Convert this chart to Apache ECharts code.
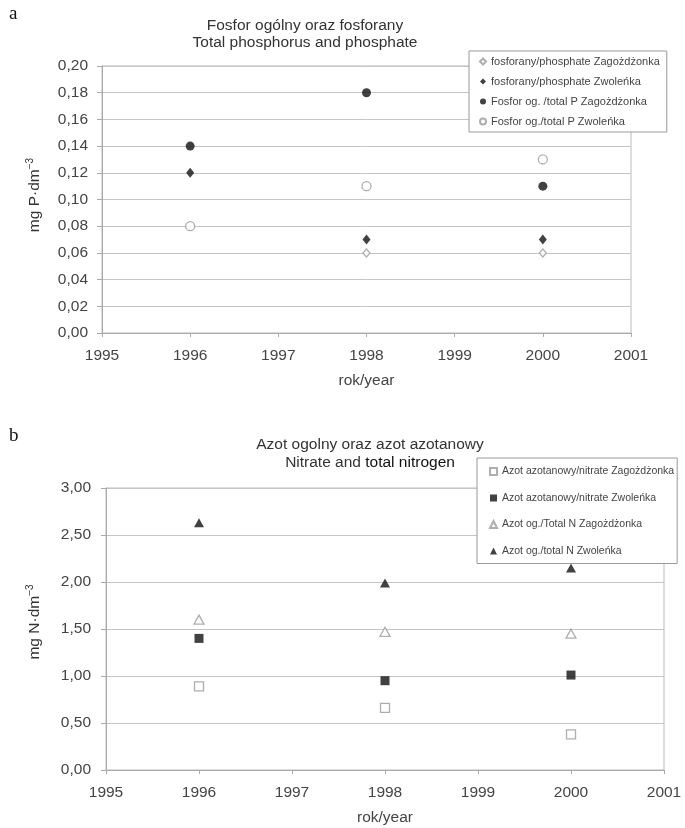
<!DOCTYPE html>
<html>
<head>
<meta charset="utf-8">
<script src="https://cdn.jsdelivr.net/npm/echarts@6/dist/echarts.min.js"></script>
<style>
html,body{margin:0;padding:0;background:#fff;}
#c{width:685px;height:828px;}
</style>
</head>
<body>
<div id="c"></div>
<script>
// ---- data ----
const years = [1996, 1998, 2000];
// chart a: phosphorus (mg P/dm3)
const phosphateZag = [null, 0.06, 0.06];
const phosphateZwol = [0.12, 0.07, 0.07];
const totalPZag = [0.14, 0.18, 0.11];
const totalPZwol = [0.08, 0.11, 0.13];
// chart b: nitrogen (mg N/dm3)
const nitrateZag = [0.89, 0.66, 0.38];
const nitrateZwol = [1.40, 0.95, 1.01];
const totalNZag = [1.60, 1.47, 1.45];
const totalNZwol = [2.63, 1.99, 2.15];

const namesA = ['fosforany/phosphate Zagożdżonka', 'fosforany/phosphate Zwoleńka',
  'Fosfor og. /total P Zagożdżonka', 'Fosfor og./total P Zwoleńka'];
const namesB = ['Azot azotanowy/nitrate Zagożdżonka', 'Azot azotanowy/nitrate Zwoleńka',
  'Azot og./Total N Zagożdżonka', 'Azot og./total N Zwoleńka'];
const xTicksMin = 1995, xTicksMax = 2001;

function pairs(vals) {
  return years.map((y, i) => vals[i] == null ? null : [y, vals[i]]).filter(d => d);
}
const FONT = 'Liberation Sans, Arial, sans-serif';
const TXT = '#444';
const comma = v => v.toFixed(2).replace('.', ',');

function xAxis(gi) {
  return {
    type: 'value', gridIndex: gi, min: xTicksMin, max: xTicksMax, interval: 1,
    name: 'rok/year', nameLocation: 'middle', nameGap: 40,
    nameTextStyle: {fontFamily: FONT, fontSize: 15.5, color: TXT},
    axisLine: {show: true, lineStyle: {color: '#aaa'}},
    axisTick: {show: true, length: 4, lineStyle: {color: '#aaa'}},
    axisLabel: {fontFamily: FONT, fontSize: 15.5, color: TXT, margin: 15, formatter: v => String(v)},
    splitLine: {show: false}
  };
}
function yAxis(gi, max, interval, margin) {
  return {
    type: 'value', gridIndex: gi, min: 0, max: max, interval: interval,
    axisLine: {show: true, lineStyle: {color: '#aaa'}},
    axisTick: {show: true, length: 5, lineStyle: {color: '#aaa'}},
    axisLabel: {fontFamily: FONT, fontSize: 15.5, color: TXT, margin: margin, formatter: comma},
    splitLine: {show: true, lineStyle: {color: '#c4c4c4', width: 1}}
  };
}
const filled = {color: '#111', borderColor: '#111', borderWidth: 0};
const open = {color: '#fff', borderColor: '#9a9a9a', borderWidth: 1.3};

function sc(name, xi, data, symbol, size, style) {
  return {type: 'scatter', name: name, xAxisIndex: xi, yAxisIndex: xi, data: data,
    symbol: symbol, symbolSize: size, itemStyle: style, z: 5,
    emphasis: {disabled: true}};
}

const legendBase = {
  orient: 'vertical', backgroundColor: '#fff', borderColor: '#999', borderWidth: 1,
  itemWidth: 6, itemHeight: 6, selectedMode: false, z: 10
};

const option = {
  animation: false,
  backgroundColor: '#fff',
  textStyle: {fontFamily: FONT},
  grid: [
    {left: 102, right: 685 - 631, top: 66, height: 267, show: true, borderColor: '#bbb', borderWidth: 1},
    {left: 106, right: 685 - 664, top: 488, height: 282, show: true, borderColor: '#bbb', borderWidth: 1}
  ],
  xAxis: [xAxis(0), xAxis(1)],
  yAxis: [yAxis(0, 0.2, 0.02, 14), yAxis(1, 3, 0.5, 15)],
  legend: [
    Object.assign({}, legendBase, {
      left: 469, top: 51, padding: [5, 7, 5, 10], itemGap: 9,
      textStyle: {fontFamily: FONT, fontSize: 11, color: TXT},
      data: [
        {name: namesA[0], icon: 'diamond'}, {name: namesA[1], icon: 'diamond'},
        {name: namesA[2], icon: 'circle'}, {name: namesA[3], icon: 'circle'}
      ]
    }),
    Object.assign({}, legendBase, {
      left: 477, top: 458, padding: [8, 3, 7, 12], itemGap: 15.5, itemWidth: 7, itemHeight: 7,
      textStyle: {fontFamily: FONT, fontSize: 10.5, color: TXT},
      data: [
        {name: namesB[0], icon: 'rect'}, {name: namesB[1], icon: 'rect'},
        {name: namesB[2], icon: 'triangle'}, {name: namesB[3], icon: 'triangle'}
      ]
    })
  ],
  series: [
    sc(namesA[0], 0, pairs(phosphateZag), 'diamond', [7, 8], open),
    sc(namesA[1], 0, pairs(phosphateZwol), 'diamond', [8, 10], filled),
    sc(namesA[2], 0, pairs(totalPZag), 'circle', 9, filled),
    sc(namesA[3], 0, pairs(totalPZwol), 'circle', 9, open),
    sc(namesB[0], 1, pairs(nitrateZag), 'rect', 9, open),
    sc(namesB[1], 1, pairs(nitrateZwol), 'rect', 9, filled),
    sc(namesB[2], 1, pairs(totalNZag), 'triangle', [10, 9], open),
    sc(namesB[3], 1, pairs(totalNZwol), 'triangle', [10, 9], filled)
  ],
  graphic: [
    {type: 'text', left: 9, top: 5, style: {text: 'a', font: '19px "Liberation Serif", serif', fill: '#111'}},
    {type: 'text', left: 9, top: 427, style: {text: 'b', font: '19px "Liberation Serif", serif', fill: '#111'}},
    {type: 'text', x: 305, y: 34, style: {
      text: 'Fosfor ogólny oraz fosforany\nTotal phosphorus and phosphate',
      fontFamily: FONT, fontSize: 15.5, lineHeight: 17, fill: '#333', align: 'center', verticalAlign: 'middle'}},
    {type: 'text', x: 370, y: 454, style: {
      text: 'Azot ogolny oraz azot azotanowy\n{g|Nitrate and }{k|total nitrogen}',
      rich: {g: {fontFamily: FONT, fontSize: 15.5, fill: '#333'}, k: {fontFamily: FONT, fontSize: 15.5, fill: '#111'}},
      fontFamily: FONT, fontSize: 15.5, lineHeight: 18, fill: '#333', align: 'center', verticalAlign: 'middle'}},
    {type: 'text', x: 35, y: 195, rotation: Math.PI / 2, style: {
      text: '{m|mg P·dm}{s|−3}',
      rich: {m: {fontFamily: FONT, fontSize: 15.5, fill: '#333'}, s: {fontFamily: FONT, fontSize: 10, fill: '#333', verticalAlign: 'top', padding: [0, 0, 9, 0]}},
      align: 'center', verticalAlign: 'middle'}},
    {type: 'text', x: 35, y: 622, rotation: Math.PI / 2, style: {
      text: '{m|mg N·dm}{s|−3}',
      rich: {m: {fontFamily: FONT, fontSize: 15.5, fill: '#333'}, s: {fontFamily: FONT, fontSize: 10, fill: '#333', verticalAlign: 'top', padding: [0, 0, 9, 0]}},
      align: 'center', verticalAlign: 'middle'}}
  ]
};
const chart = echarts.init(document.getElementById('c'), null, {renderer: 'canvas'});
chart.setOption(option);
</script>
</body>
</html>
